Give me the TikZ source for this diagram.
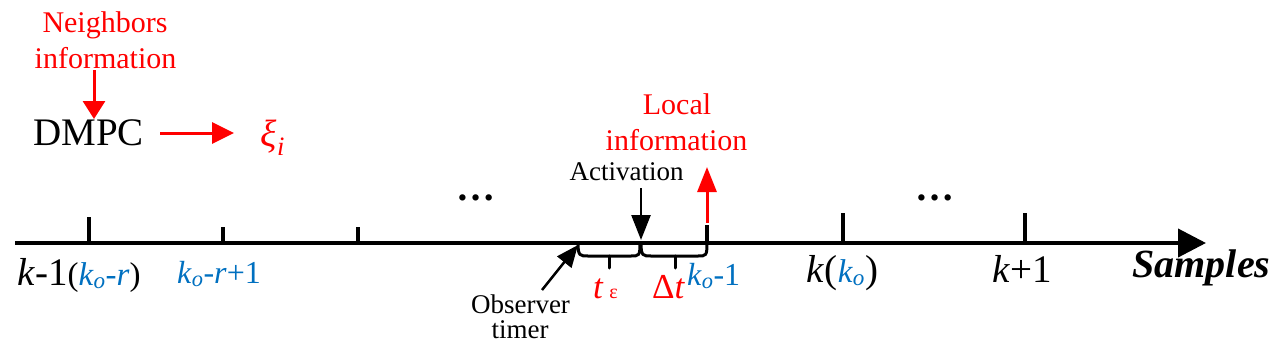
\documentclass[tikz,border=0pt]{standalone}
\usepackage{fontspec}
\setmainfont{Liberation Serif}
\usetikzlibrary{arrows.meta,calc}
\definecolor{myred}{RGB}{255,0,0}
\definecolor{myblue}{RGB}{0,112,192}
\newcommand{\kosub}{\textit{k}\textsubscript{\textit{o}}}
\begin{document}
\begin{tikzpicture}[x=1pt,y=-1pt,
  lbl/.style={inner sep=0pt, anchor=base},
  tickline/.style={line width=3.5pt},
  bracel/.style={line width=3pt, line cap=round},
  redline/.style={myred, line width=3pt},
  blackline/.style={black, line width=2.5pt},
  fa/.style={font=\fontsize{30}{36}\selectfont},
  fb/.style={font=\fontsize{39}{40}\selectfont},
  fc/.style={font=\fontsize{27}{30}\selectfont},
  fd/.style={font=\fontsize{32}{34}\selectfont}]
\useasboundingbox (0,0) rectangle (1278,356);

% axis
\coordinate (a0) at (15,243);
\coordinate (a1) at (1206,243);
\draw[line width=4pt, -{Triangle[length=28pt,width=28pt]}] (a0) -- (a1);

% ticks
\coordinate (t1) at (89,243);
\coordinate (t2) at (223,243);
\coordinate (t3) at (358,243);
\coordinate (t4) at (707,243);
\coordinate (t5) at (843,243);
\coordinate (t6) at (1025,243);
\draw[tickline] (t1) -- ++(0,-26);
\draw[tickline] (t2) -- ++(0,-16);
\draw[tickline] (t3) -- ++(0,-16);
\draw[tickline] (t4) -- ++(0,-18);
\draw[tickline] (t5) -- ++(0,-30);
\draw[tickline] (t6) -- ++(0,-30);

% top-left
\node[lbl, fa, myred] (nb1) at (105,32) {Neighbors};
\node[lbl, fa, myred] (nb2) at (105.5,68) {information};
\node[lbl, fb] (dmpc1) at (88.5,145) {DMPC};
\coordinate (na) at (94,70);
\coordinate (nb) at (94,119);
\draw[redline, -{Triangle[length=18pt,width=22pt]}] (na) -- (nb);
\coordinate (da) at (160,133);
\coordinate (db) at (234,133);
\draw[redline, -{Triangle[length=22pt,width=21pt]}] (da) -- (db);
\node[lbl, myred, font=\fontsize{38}{40}\selectfont] (xi) at (273,146) {\textit{ξ}\textsubscript{\textit{i}}};

% dots
\node[lbl, font=\fontsize{39}{40}\selectfont\bfseries] (dots1) at (476,200) {…};
\node[lbl, font=\fontsize{39}{40}\selectfont\bfseries] (dots2) at (935,200) {…};

% middle
\node[lbl, fa, myred] (lc1) at (677,114) {Local};
\node[lbl, fa, myred] (lc2) at (676.5,150) {information};
\node[lbl, fc] (act) at (626.5,180) {Activation};
\coordinate (acta) at (641,188);
\coordinate (actb) at (641,240);
\draw[blackline, -{Triangle[length=25pt,width=19pt]}] (acta) -- (actb);
\coordinate (la) at (707,223);
\coordinate (lb) at (707,167);
\draw[redline, -{Triangle[length=25pt,width=19pt]}] (la) -- (lb);

% braces
\draw[bracel] (578,243) .. controls (578,256) and (580,256) .. (588,256) -- (631,256) .. controls (639,256) and (640,256) .. (640,243);
\draw[bracel] (609,256) -- (609,268);
\draw[bracel] (641,243) .. controls (641,256) and (643,256) .. (651,256) -- (698,256) .. controls (706,256) and (707,256) .. (707,243);
\draw[bracel] (675,256) -- (675,268);

% observer
\node[lbl, fc] (obs1) at (520.5,313) {Observer};
\node[lbl, fc] (obs2) at (520,338) {timer};
\coordinate (oa) at (542,290);
\coordinate (ob) at (578,245);
\draw[blackline, -{Triangle[length=22pt,width=18pt]}] (oa) -- (ob);

\node[lbl, myred, font=\fontsize{35}{36}\selectfont, anchor=base west] (teps) at (593,298) {\textit{t}\,{\fontsize{20}{20}\selectfont ε}};
\node[lbl, myred, font=\fontsize{35}{36}\selectfont, anchor=base west] (dt) at (652,298) {Δ\textit{t}};
\node[lbl, fd, myblue, anchor=base west] (ko1) at (687,285) {\kosub-1};

% bottom labels
\node[lbl, fb, anchor=base west] (km1) at (17,285) {\textit{k}-1{\fontsize{33}{34}\selectfont(\textcolor{myblue}{\kosub-\textit{r}})}};
\node[lbl, fd, myblue] (kor) at (219,283) {\kosub-\textit{r}+1};
\node[lbl, fb] (kk) at (842.5,282) {\textit{k}({\fontsize{33}{34}\selectfont\textcolor{myblue}{\kosub}})};
\node[lbl, fb] (kp1) at (1022.5,282) {\textit{k}+1};
\node[lbl, font=\fontsize{40}{42}\selectfont\bfseries\itshape] (samp) at (1201.5,277) {Samples};
\end{tikzpicture}
\end{document}
